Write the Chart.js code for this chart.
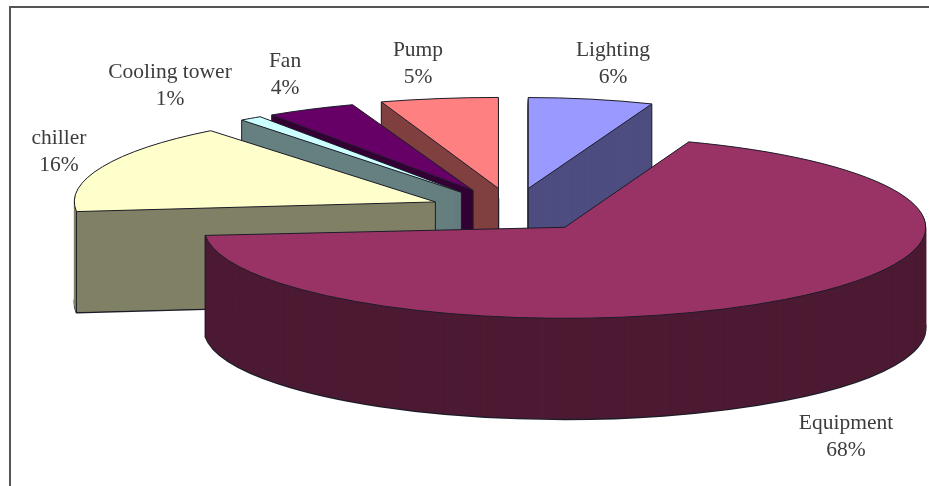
<!DOCTYPE html>
<html>
<head>
<meta charset="utf-8">
<style>
  html, body { margin: 0; padding: 0; background: #fff; }
  #wrap { width: 929px; height: 486px; }
</style>
<script src="https://cdn.jsdelivr.net/npm/chart.js@4"></script>
</head>
<body>
<div id="wrap"><canvas id="pieChart" width="929" height="486"></canvas></div>
<script>
const categories = ["Lighting", "Equipment", "chiller", "Cooling tower", "Fan", "Pump"];
const shares = [6, 68, 16, 1, 4, 5];
const topColors = ["#9999ff", "#993366", "#ffffcc", "#ccffff", "#660066", "#ff8080"];
const sideColors = ["#4d4d80", "#4d1a33", "#808066", "#668080", "#330033", "#804040"];

// slices are painted back to front so the big one sits over the others
const paintOrder = [0, 5, 4, 3, 2, 1];

// label centres, two lines each
const labelSpots = [[613, 50], [846, 423], [59, 138], [170, 72], [285, 61], [418, 50]];

const TILT = { cx: 512, cy: 210, rx: 361, ry: 91, depth: 101 };

// perspective fudge per slice: turn in degrees, rim width, distance pulled out
const sliceTurn = [0, -1.5, -2.5, -1.5, -1.5, 0];
const sliceWidth = [0.93, 1, 1, 1, 1, 1.05];
const sliceExplode = [0.24, 0.24, 0.23, 0.24, 0.24, 0.24];

const EDGE = "#1c1c28";

function strokeFlat(ctx, fn) {
  // strokes keep an even width even though the path is squashed
  const stroke = ctx.stroke;
  ctx.stroke = function () {
    ctx.save();
    ctx.setTransform(1, 0, 0, 1, 0, 0);
    stroke.call(ctx);
    ctx.restore();
  };
  fn();
  delete ctx.stroke;
}

// which vertical edges of a wedge face the viewer
function visibleCorners(start, end) {
  const startWall = Math.cos(start) < -1e-6;
  const endWall = Math.cos(end) > 1e-6;
  const corners = [];
  if (startWall || endWall) corners.push([0, 0]);
  if (startWall || Math.sin(start) > 0) corners.push([Math.cos(start), Math.sin(start)]);
  if (endWall || Math.sin(end) > 0) corners.push([Math.cos(end), Math.sin(end)]);
  return corners;
}

const tiltedPie = {
  id: "tiltedPie",
  beforeDraw(chart) {
    const ctx = chart.ctx;
    ctx.save();
    ctx.strokeStyle = "#555";
    ctx.lineWidth = 2;
    ctx.beginPath();
    ctx.moveTo(10, 486);
    ctx.lineTo(10, 7);
    ctx.lineTo(929, 7);
    ctx.stroke();
    ctx.restore();
  },
  beforeDatasetsDraw(chart) {
    const ctx = chart.ctx;
    const arcs = chart.getDatasetMeta(0).data;

    paintOrder.forEach(i => {
      const arc = arcs[i];
      const turn = sliceTurn[i] * Math.PI / 180;
      const rx = TILT.rx * sliceWidth[i];
      const mid = (arc.startAngle + arc.endAngle) / 2 + turn;
      const sx = rx / arc.outerRadius;
      const sy = TILT.ry / arc.outerRadius;
      const ox = TILT.cx + Math.cos(mid) * sliceExplode[i] * TILT.rx;
      const oy = TILT.cy + Math.sin(mid) * sliceExplode[i] * TILT.ry;

      const place = lift => {
        ctx.setTransform(sx, 0, 0, sy, ox, oy + lift);
        ctx.rotate(turn);
        ctx.translate(-arc.x, -arc.y);
      };

      ctx.save();
      // bottom outline first, the wall stack then hides all but its lower rim
      arc.options.backgroundColor = sideColors[i];
      arc.options.borderWidth = 1.6;
      arc.options.borderColor = EDGE;
      place(TILT.depth);
      strokeFlat(ctx, () => arc.draw(ctx));

      // side wall: the same arc stacked downward in the darker colour
      arc.options.borderWidth = 1;
      arc.options.borderColor = sideColors[i];
      strokeFlat(ctx, () => {
        for (let d = TILT.depth - 1; d > 0; d--) {
          place(d);
          arc.draw(ctx);
        }
      });

      ctx.setTransform(1, 0, 0, 1, 0, 0);
      ctx.strokeStyle = EDGE;
      ctx.lineWidth = 1;
      visibleCorners(arc.startAngle + turn, arc.endAngle + turn).forEach(([ux, uy]) => {
        const x = ox + ux * rx;
        const y = oy + uy * TILT.ry;
        ctx.beginPath();
        ctx.moveTo(x, y);
        ctx.lineTo(x, y + TILT.depth);
        ctx.stroke();
      });

      // top face
      arc.options.backgroundColor = topColors[i];
      arc.options.borderColor = EDGE;
      place(0);
      strokeFlat(ctx, () => arc.draw(ctx));
      ctx.restore();
    });

    ctx.save();
    ctx.fillStyle = "#3c3c3c";
    ctx.font = '21.5px "Liberation Serif"';
    ctx.textAlign = "center";
    ctx.textBaseline = "middle";
    categories.forEach((name, i) => {
      const [x, y] = labelSpots[i];
      ctx.fillText(name, x, y);
      ctx.fillText(shares[i] + "%", x, y + 27);
    });
    ctx.restore();
    return false;
  }
};

new Chart(document.getElementById("pieChart"), {
  type: "pie",
  data: {
    labels: categories,
    datasets: [{ data: shares, backgroundColor: topColors, borderWidth: 0 }]
  },
  options: {
    responsive: false,
    animation: false,
    layout: { padding: 0 },
    plugins: { legend: { display: false }, tooltip: { enabled: false } }
  },
  plugins: [tiltedPie]
});
</script>
</body>
</html>
